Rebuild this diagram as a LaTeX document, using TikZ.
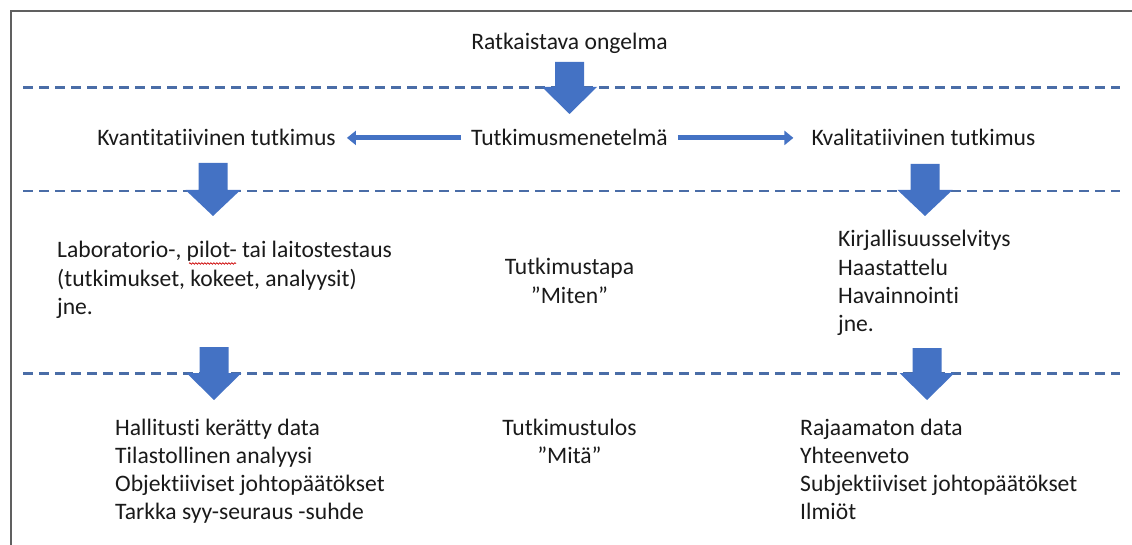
\documentclass[tikz,border=0pt]{standalone}
\usepackage{fontspec}
\setmainfont{Carlito}[Ligatures={NoCommon}]
\usetikzlibrary{arrows.meta,decorations.pathmorphing}
\definecolor{arrowblue}{HTML}{4472C4}
\definecolor{dashblue}{HTML}{4A6DA7}
\definecolor{framegray}{HTML}{606060}
\definecolor{txt}{HTML}{1A1A1A}
\newcommand\dnarrow[4]{% centre x, top y, head start y, tip y
  \fill[blockarrow] (#1-14.5,#2) -- (#1+14.5,#2) -- (#1+14.5,#3) -- (#1+27.5,#3)
    -- (#1,#4) -- (#1-27.5,#3) -- (#1-14.5,#3) -- cycle;}
\begin{document}
\begin{tikzpicture}[x=1pt,y=-1pt,
  lbl/.style={inner sep=0pt, text=txt, font=\fontsize{23.6}{28.3}\selectfont},
  sepline/.style={dashblue, line width=2.4pt, dash pattern=on 9.5pt off 6.5pt},
  sidearrow/.style={arrowblue, line width=5pt, -{Triangle[length=9pt,width=14pt]}},
  blockarrow/.style={fill=arrowblue, draw=none}
]
\useasboundingbox (0,0) rectangle (1132,545);
% frame
\draw[framegray, line width=2pt] (11,545) -- (11,11) -- (1132,11);
% separators
\draw[sepline] (23,87.5) -- (1120,87.5);
\draw[sepline] (23,191) -- (1120,191);
\draw[sepline] (23,373.5) -- (1120,373.5);
% texts
\node[lbl, anchor=base] (ratk) at (569.5,50) {Ratkaistava ongelma};
\node[lbl, anchor=base] (tm) at (569.5,146) {Tutkimusmenetelmä};
\node[lbl, anchor=base] (kvant) at (216.5,146) {Kvantitatiivinen tutkimus};
\node[lbl, anchor=base] (kval) at (923.5,146) {Kvalitatiivinen tutkimus};
\node[lbl, anchor=base west] (labo) at (57,258) {\begin{tabular}[t]{@{}l@{}}Laboratorio-, pilot- tai laitostestaus\\(tutkimukset, kokeet, analyysit)\\jne.\end{tabular}};
\node[lbl, anchor=base] (tapa) at (569.5,275) {\begin{tabular}[t]{@{}c@{}}Tutkimustapa\\”Miten”\end{tabular}};
\node[lbl, anchor=base west] (kirj) at (838,247) {\begin{tabular}[t]{@{}l@{}}Kirjallisuusselvitys\\Haastattelu\\Havainnointi\\jne.\end{tabular}};
\node[lbl, anchor=base west] (hall) at (115,435) {\begin{tabular}[t]{@{}l@{}}Hallitusti kerätty data\\Tilastollinen analyysi\\Objektiiviset johtopäätökset\\Tarkka syy-seuraus -suhde\end{tabular}};
\node[lbl, anchor=base] (tulos) at (569.5,435) {\begin{tabular}[t]{@{}c@{}}Tutkimustulos\\”Mitä”\end{tabular}};
\node[lbl, anchor=base west] (raja) at (800,435) {\begin{tabular}[t]{@{}l@{}}Rajaamaton data\\Yhteenveto\\Subjektiiviset johtopäätökset\\Ilmiöt\end{tabular}};
% spell-check squiggle under "pilot"
\draw[red!80!black, line width=0.7pt, decorate, decoration={snake, amplitude=0.8pt, segment length=3pt}] (189,263.5) -- (236,263.5);
% side arrows
\draw[sidearrow, shorten <=10pt, shorten >=11pt] (tm.west) -- (kvant.east);
\draw[sidearrow, shorten <=10pt, shorten >=18pt] (tm.east) -- (kval.west);
% block arrows
\dnarrow{569.5}{62}{87}{114}
\dnarrow{213}{163}{190}{216}
\dnarrow{925}{164}{190}{216}
\dnarrow{214}{347}{373}{400}
\dnarrow{927}{348}{373}{400}
\end{tikzpicture}
\end{document}
